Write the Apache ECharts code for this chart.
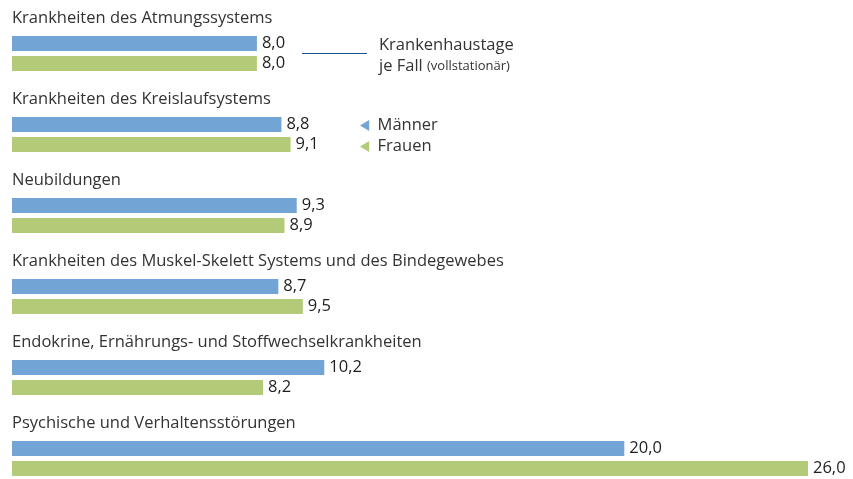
<!DOCTYPE html>
<html>
<head>
<meta charset="utf-8">
<script src="https://cdn.jsdelivr.net/npm/echarts@6/dist/echarts.min.js"></script>
<style>
  html, body { margin: 0; padding: 0; background: #fff; }
  #chart { width: 853px; height: 479px; }
</style>
</head>
<body>
<div id="chart"></div>
<script>
const categories = [
  'Krankheiten des Atmungssystems',
  'Krankheiten des Kreislaufsystems',
  'Neubildungen',
  'Krankheiten des Muskel-Skelett Systems und des Bindegewebes',
  'Endokrine, Ernährungs- und Stoffwechselkrankheiten',
  'Psychische und Verhaltensstörungen'
];
const maenner = [8.0, 8.8, 9.3, 8.7, 10.2, 20.0];
const frauen = [8.0, 9.1, 8.9, 9.5, 8.2, 26.0];

const FONT = '"Open Sans", sans-serif';
const TEXT = '#333333';
const BLUE = '#72a4d5';
const GREEN = '#b3cb79';
const FS = 16.5;

const fmt = p => p.value.toFixed(1).replace('.', ',');

const chart = echarts.init(document.getElementById('chart'));

chart.setOption({
  animation: false,
  textStyle: { fontFamily: FONT },
  grid: { left: 12, top: 53.5, width: 796, bottom: 20.5, outerBoundsMode: 'none', containLabel: false },
  xAxis: {
    type: 'value', min: 0, max: 26,
    show: false
  },
  yAxis: {
    type: 'category',
    inverse: true,
    boundaryGap: false,
    data: categories,
    axisLine: { show: false },
    axisTick: { show: false },
    splitLine: { show: false },
    axisLabel: {
      inside: true,
      margin: 0,
      align: 'left',
      verticalAlign: 'bottom',
      lineHeight: 70,
      color: TEXT,
      fontSize: FS,
      fontFamily: FONT
    }
  },
  legend: {
    orient: 'vertical',
    left: 360,
    top: 117,
    padding: 0,
    itemGap: 4,
    itemWidth: 10,
    itemHeight: 11,
    icon: 'path://M10,0 L0,6 L10,12 Z',
    textStyle: { color: TEXT, fontSize: FS, fontFamily: FONT, padding: [0, 0, 0, 3] },
    data: ['Männer', 'Frauen']
  },
  graphic: [
    { type: 'line', shape: { x1: 302, y1: 53.5, x2: 367, y2: 53.5 }, style: { stroke: '#1f4f8a', lineWidth: 1 } },
    { type: 'text', left: 379, top: 37, style: { text: 'Krankenhaustage', font: FS + 'px ' + FONT, fill: TEXT } },
    { type: 'text', left: 379, top: 58, style: {
        text: '{a|je Fall }{b|(vollstationär)}',
        fill: TEXT,
        fontFamily: FONT,
        rich: {
          a: { fontSize: FS, fontFamily: FONT, fill: TEXT },
          b: { fontSize: 13, fontFamily: FONT, fill: TEXT }
        }
      } }
  ],
  series: [
    {
      name: 'Männer', type: 'bar', data: maenner,
      barWidth: 15, barGap: '33%',
      itemStyle: { color: BLUE },
      label: { show: true, position: 'right', distance: 5, color: '#1e1e1e', fontSize: FS, fontFamily: FONT, formatter: fmt }
    },
    {
      name: 'Frauen', type: 'bar', data: frauen,
      barWidth: 15,
      itemStyle: { color: GREEN },
      label: { show: true, position: 'right', distance: 5, color: '#1e1e1e', fontSize: FS, fontFamily: FONT, formatter: fmt }
    }
  ]
});
</script>
</body>
</html>
